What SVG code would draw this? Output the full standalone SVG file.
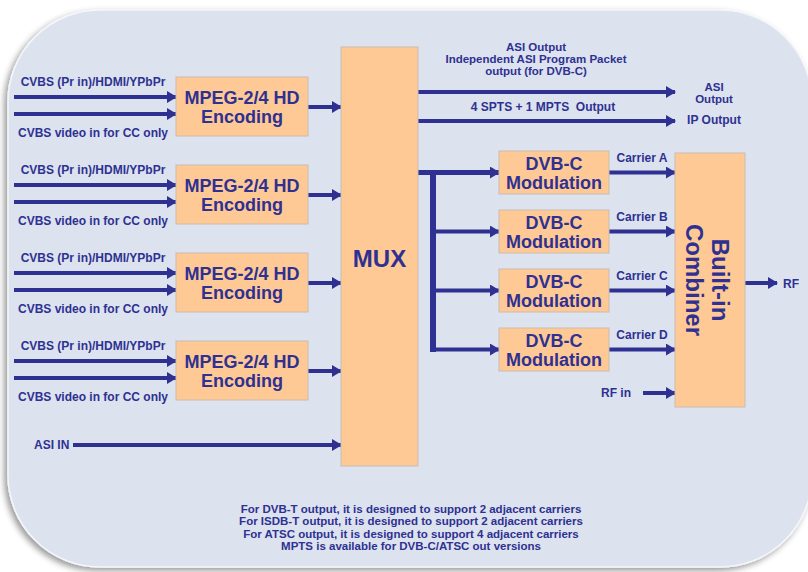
<svg xmlns="http://www.w3.org/2000/svg" width="808" height="572" viewBox="0 0 808 572">
<style>
.box{fill:#fec994;stroke:#cbbcae;stroke-width:1}
.t{font-family:"Liberation Sans",Arial,sans-serif;font-weight:bold;fill:#2e3192}
.s{font-size:12px}
.n{font-size:11.5px}
.m{font-size:18px}
.c{text-anchor:middle}
.ln{stroke:#2e3192;stroke-width:4;fill:none}
.ar{stroke:#2e3192;stroke-width:4;fill:none;marker-end:url(#ah)}
</style>
<defs>
<marker id="ah" markerUnits="userSpaceOnUse" markerWidth="10" markerHeight="12" refX="9" refY="6" orient="auto">
<path d="M0,0 L10,6 L0,12 z" fill="#2e3192"/>
</marker>
<filter id="sh" x="-5%" y="-5%" width="110%" height="110%">
<feDropShadow dx="-3" dy="3" stdDeviation="3" flood-color="#000" flood-opacity="0.4"/>
</filter>
</defs>
<rect width="808" height="572" fill="#ffffff"/>
<rect id="panel" x="8" y="10" width="804" height="557" rx="92" ry="92" fill="#dce2ee" stroke="#f4f6fa" stroke-width="1.5" filter="url(#sh)"/>

<g id="connectors">
<path class="ar" d="M14,97 H176"/>
<path class="ar" d="M14,114 H176"/>
<path class="ar" d="M14,185 H176"/>
<path class="ar" d="M14,202 H176"/>
<path class="ar" d="M14,273 H176"/>
<path class="ar" d="M14,290 H176"/>
<path class="ar" d="M14,361 H176"/>
<path class="ar" d="M14,378 H176"/>
<path class="ar" d="M308,107 H341"/>
<path class="ar" d="M308,195 H341"/>
<path class="ar" d="M308,283 H341"/>
<path class="ar" d="M308,371 H341"/>
<path class="ar" d="M73,445 H341"/>
<path class="ar" d="M418,92 H675"/>
<path class="ar" d="M418,121 H675"/>
<path class="ar" style="stroke-width:5" d="M418,172.5 H499"/>
<path class="ln" style="stroke-width:6" d="M433,170 V352"/>
<path class="ar" d="M436,231.5 H499"/>
<path class="ar" d="M436,290.5 H499"/>
<path class="ar" d="M430,349.5 H499"/>
<path class="ar" d="M609,172.5 H675"/>
<path class="ar" d="M609,231.5 H675"/>
<path class="ar" d="M609,290.5 H675"/>
<path class="ar" d="M609,349.5 H675"/>
<path class="ar" d="M643,393 H675"/>
<path class="ar" d="M745,283 H777"/>
</g>

<g id="enc1">
<rect class="box" x="176" y="77" width="132" height="59"/>
<text class="t m c" x="242" y="104">MPEG-2/4 HD</text>
<text class="t m c" x="242" y="123">Encoding</text>
<text class="t s c" x="93" y="86">CVBS (Pr in)/HDMI/YPbPr</text>
<text class="t s c" x="93" y="137">CVBS video in for CC only</text>
</g>
<g id="enc2">
<rect class="box" x="176" y="165" width="132" height="59"/>
<text class="t m c" x="242" y="192">MPEG-2/4 HD</text>
<text class="t m c" x="242" y="211">Encoding</text>
<text class="t s c" x="93" y="174">CVBS (Pr in)/HDMI/YPbPr</text>
<text class="t s c" x="93" y="225">CVBS video in for CC only</text>
</g>
<g id="enc3">
<rect class="box" x="176" y="253" width="132" height="59"/>
<text class="t m c" x="242" y="280">MPEG-2/4 HD</text>
<text class="t m c" x="242" y="299">Encoding</text>
<text class="t s c" x="93" y="262">CVBS (Pr in)/HDMI/YPbPr</text>
<text class="t s c" x="93" y="313">CVBS video in for CC only</text>
</g>
<g id="enc4">
<rect class="box" x="176" y="341" width="132" height="59"/>
<text class="t m c" x="242" y="368">MPEG-2/4 HD</text>
<text class="t m c" x="242" y="387">Encoding</text>
<text class="t s c" x="93" y="350">CVBS (Pr in)/HDMI/YPbPr</text>
<text class="t s c" x="93" y="401">CVBS video in for CC only</text>
</g>
<g id="asiin">
<text class="t s" x="34" y="449">ASI IN</text>
</g>

<g id="mux">
<rect class="box" x="341" y="47" width="77" height="419"/>
<text class="t c" style="font-size:24px" x="379.5" y="267">MUX</text>
</g>

<g id="outlabels">
<text class="t n c" x="536" y="50.5">ASI Output</text>
<text class="t n c" x="536" y="62.9">Independent ASI Program Packet</text>
<text class="t n c" x="536" y="75.3">output (for DVB-C)</text>
<text class="t s c" x="543" y="111" style="white-space:pre">4 SPTS + 1 MPTS  Output</text>
<text class="t n c" x="714" y="90.5">ASI</text>
<text class="t n c" x="714" y="102.9">Output</text>
<text class="t s c" x="714" y="124">IP Output</text>
</g>

<g id="mod1">
<rect class="box" x="499" y="151" width="110" height="43"/>
<text class="t m c" x="554" y="170">DVB-C</text>
<text class="t m c" x="554" y="189">Modulation</text>
<text class="t s c" x="642" y="162">Carrier A</text>
</g>
<g id="mod2">
<rect class="box" x="499" y="210" width="110" height="43"/>
<text class="t m c" x="554" y="229">DVB-C</text>
<text class="t m c" x="554" y="248">Modulation</text>
<text class="t s c" x="642" y="221">Carrier B</text>
</g>
<g id="mod3">
<rect class="box" x="499" y="269" width="110" height="43"/>
<text class="t m c" x="554" y="288">DVB-C</text>
<text class="t m c" x="554" y="307">Modulation</text>
<text class="t s c" x="642" y="280">Carrier C</text>
</g>
<g id="mod4">
<rect class="box" x="499" y="328" width="110" height="43"/>
<text class="t m c" x="554" y="347">DVB-C</text>
<text class="t m c" x="554" y="366">Modulation</text>
<text class="t s c" x="642" y="339">Carrier D</text>
</g>

<g id="combiner">
<rect class="box" x="675" y="153" width="70" height="254"/>
<text class="t c" style="font-size:24px" transform="translate(712,280) rotate(90)" x="0" y="0">Built-in</text>
<text class="t c" style="font-size:24px" transform="translate(686,280) rotate(90)" x="0" y="0">Combiner</text>
</g>
<g id="rflabels">
<text class="t s c" x="616" y="397">RF in</text>
<text class="t s" x="783" y="288">RF</text>
</g>

<g id="notes">
<text class="t n c" x="411" y="513">For DVB-T output, it is designed to support 2 adjacent carriers</text>
<text class="t n c" x="411" y="525.4">For ISDB-T output, it is designed to support 2 adjacent carriers</text>
<text class="t n c" x="411" y="537.8">For ATSC output, it is designed to support 4 adjacent carriers</text>
<text class="t n c" x="411" y="550.2">MPTS is available for DVB-C/ATSC out versions</text>
</g>
</svg>
